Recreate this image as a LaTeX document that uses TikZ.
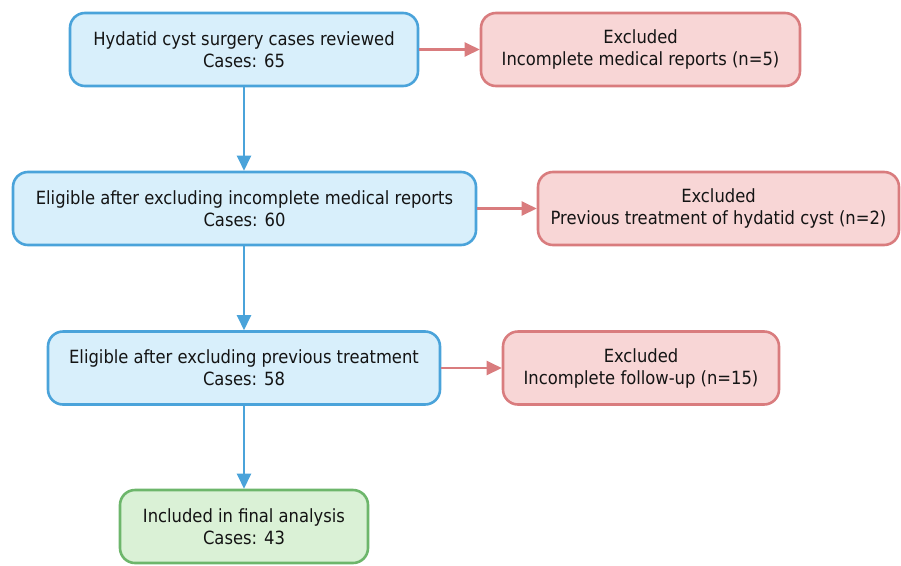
\documentclass[tikz,border=0pt]{standalone}
\usepackage{fontspec}
\setmainfont{DejaVu Sans Condensed}
\usetikzlibrary{arrows.meta}
\definecolor{bluebd}{HTML}{4AA3DA}
\definecolor{bluefill}{HTML}{D8EFFB}
\definecolor{redbd}{HTML}{D97C7E}
\definecolor{redfill}{HTML}{F8D6D6}
\definecolor{greenbd}{HTML}{6DB66B}
\definecolor{greenfill}{HTML}{DAF1D6}
\begin{document}
\begin{tikzpicture}[x=1pt,y=-1pt,
  box/.style={rounded corners=15pt, line width=2.6pt, align=center, font=\fontsize{18.2}{22}\selectfont, text=black!92, inner sep=0pt},
  bluebox/.style={box, draw=bluebd, fill=bluefill},
  redbox/.style={box, draw=redbd, fill=redfill},
  greenbox/.style={box, draw=greenbd, fill=greenfill},
  barrow/.style={draw=bluebd, line width=2.4pt, -{Triangle[length=15pt,width=14pt]}},
  rarrow/.style={draw=redbd, line width=2.4pt, -{Triangle[length=15pt,width=14pt]}}]
\useasboundingbox (0,0) rectangle (901,565);
\node[bluebox, minimum width=348pt, minimum height=73pt] (b1) at (244,49.5) {Hydatid cyst surgery cases reviewed\\Cases: 65};
\node[bluebox, minimum width=463pt, minimum height=73pt] (b2) at (244.5,208.5) {Eligible after excluding incomplete medical reports\\Cases: 60};
\node[bluebox, minimum width=392pt, minimum height=73pt] (b3) at (244,368) {Eligible after excluding previous treatment\\Cases: 58};
\node[greenbox, minimum width=248pt, minimum height=73pt] (b4) at (244,526.5) {Included in final analysis\\Cases: 43};
\node[redbox, minimum width=319pt, minimum height=73pt] (r1) at (640.5,49.5) {Excluded\\Incomplete medical reports (n=5)};
\node[redbox, minimum width=361pt, minimum height=73pt] (r2) at (718.5,208.5) {Excluded\\Previous treatment of hydatid cyst (n=2)};
\node[redbox, minimum width=276pt, minimum height=73pt] (r3) at (641,368) {Excluded\\Incomplete follow-up (n=15)};
\draw[barrow] (b1.south) -- (b1.south |- b2.north);
\draw[barrow] (b3.north |- b2.south) -- (b3.north);
\draw[barrow] (b3.south) -- (b4.north);
\draw[rarrow] (b1.east) -- (r1.west);
\draw[rarrow] (b2.east) -- (r2.west);
\draw[rarrow] (b3.east) -- (r3.west);
\end{tikzpicture}
\end{document}
